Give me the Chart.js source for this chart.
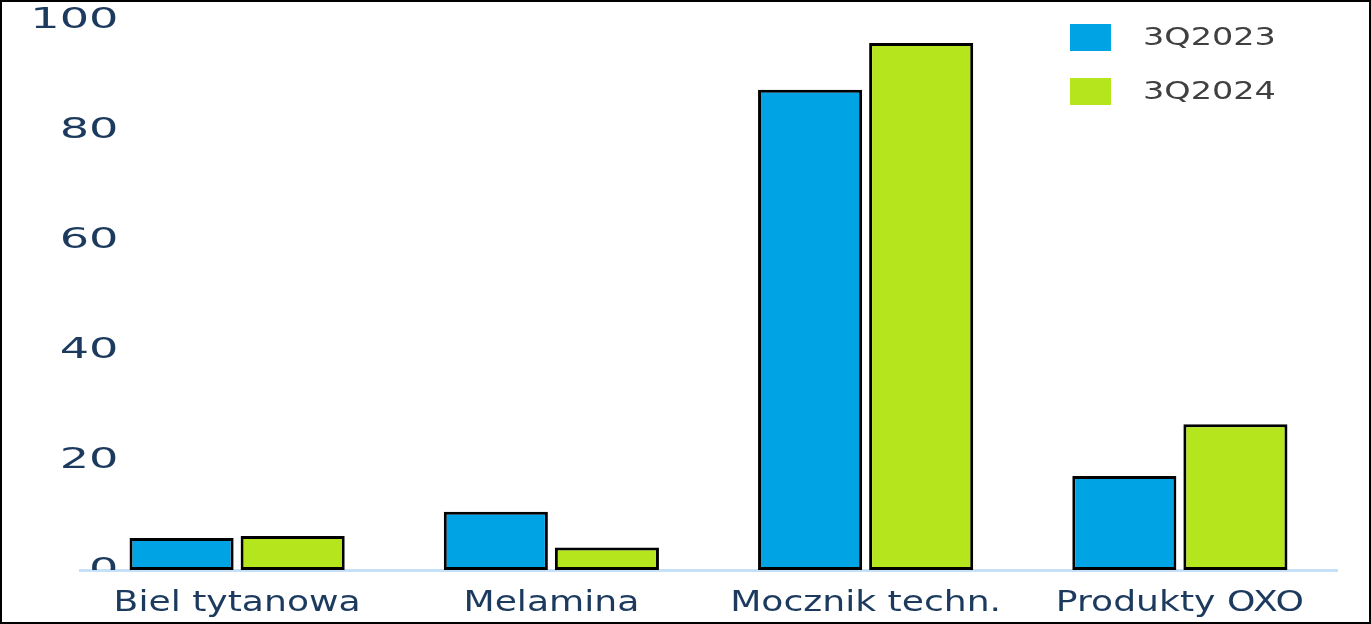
<!DOCTYPE html>
<html>
<head>
<meta charset="utf-8">
<script src="https://cdn.jsdelivr.net/npm/chart.js@4/dist/chart.umd.min.js"></script>
<style>
  html, body { margin: 0; padding: 0; background: #ffffff; }
  #wrap { width: 1371px; height: 624px; position: relative; }
</style>
</head>
<body>
<div id="wrap"><canvas id="c" width="1371" height="624"></canvas></div>
<script>
const categories = ['Biel tytanowa', 'Melamina', 'Mocznik techn.', 'Produkty OXO'];
const seriesNames = ['3Q2023', '3Q2024'];
const values2023 = [5.8, 10.6, 87.3, 17.1];
const values2024 = [6.2, 4.1, 95.8, 26.5];
const yTicks = [0, 20, 40, 60, 80, 100];

const colors = ['#00a3e4', '#b5e61d'];

// Draw tick labels of a scale horizontally widened, like the reference glyphs
function widenScaleText(scale, factor, dy, clipBottom) {
  if (scale._widened) return;
  scale._widened = true;
  const orig = scale.drawLabels;
  scale.drawLabels = function (area) {
    const ctx = this.ctx;
    const origFill = ctx.fillText;
    ctx.fillText = function (t, x, y) {
      this.save();
      this.translate(x, y + dy);
      this.scale(factor, 1);
      origFill.call(this, t, 0, 0);
      this.restore();
    };
    ctx.save();
    if (clipBottom) {
      ctx.beginPath();
      ctx.rect(0, 0, this.chart.width, this.chart.chartArea.bottom);
      ctx.clip();
    }
    try { orig.call(this, area); } finally { ctx.fillText = origFill; ctx.restore(); }
  };
}

const stretchPlugin = {
  id: 'stretchText',
  afterLayout(chart) {
    widenScaleText(chart.scales.y, 1.65, 1, true);
    widenScaleText(chart.scales.x, 1.29, 0, false);
  }
};

const legendPlugin = {
  id: 'customLegend',
  afterDraw(chart) {
    const ctx = chart.ctx;
    ctx.save();
    chart.data.datasets.forEach((ds, i) => {
      const y = 24 + i * 54;
      ctx.fillStyle = ds.backgroundColor;
      ctx.fillRect(1070, y, 41, 27);
      ctx.save();
      ctx.translate(1143, y + 14);
      ctx.scale(1.34, 1);
      ctx.fillStyle = '#404040';
      ctx.font = '25px "DejaVu Sans"';
      ctx.textBaseline = 'middle';
      ctx.textAlign = 'left';
      ctx.fillText(ds.label, 0, 0);
      ctx.restore();
    });
    ctx.strokeStyle = '#000000';
    ctx.lineWidth = 2;
    ctx.strokeRect(1, 1, 1369, 622);
    ctx.restore();
  }
};

new Chart(document.getElementById('c'), {
  type: 'bar',
  data: {
    labels: categories,
    datasets: [
      { label: seriesNames[0], data: values2023, backgroundColor: colors[0], borderColor: '#000000', borderWidth: 3, borderSkipped: false },
      { label: seriesNames[1], data: values2024, backgroundColor: colors[1], borderColor: '#000000', borderWidth: 3, borderSkipped: false }
    ]
  },
  options: {
    responsive: false,
    animation: false,
    events: [],
    layout: { padding: { left: 60, right: 34, top: 20, bottom: 4 } },
    datasets: { bar: { categoryPercentage: 0.707, barPercentage: 0.937 } },
    plugins: { legend: { display: false }, tooltip: { enabled: false } },
    scales: {
      x: {
        afterFit(scale) { scale.height = 50; },
        grid: { display: false, drawTicks: false },
        border: { display: true, color: '#c5e0f7', width: 3 },
        ticks: { color: '#1c3a5e', font: { family: '"DejaVu Sans"', size: 28 }, padding: 17, maxRotation: 0, autoSkip: false }
      },
      y: {
        min: 0, max: 100,
        afterFit(scale) { scale.width = 20; },
        grid: { display: false, drawTicks: false },
        border: { display: false },
        ticks: {
          stepSize: 20,
          mirror: true,
          crossAlign: 'far',
          color: '#1c3a5e',
          font: { family: '"DejaVu Sans"', size: 28 },
          padding: -15,
          callback: (v) => yTicks.includes(v) ? String(v) : ''
        }
      }
    }
  },
  plugins: [stretchPlugin, legendPlugin]
});
</script>
</body>
</html>
